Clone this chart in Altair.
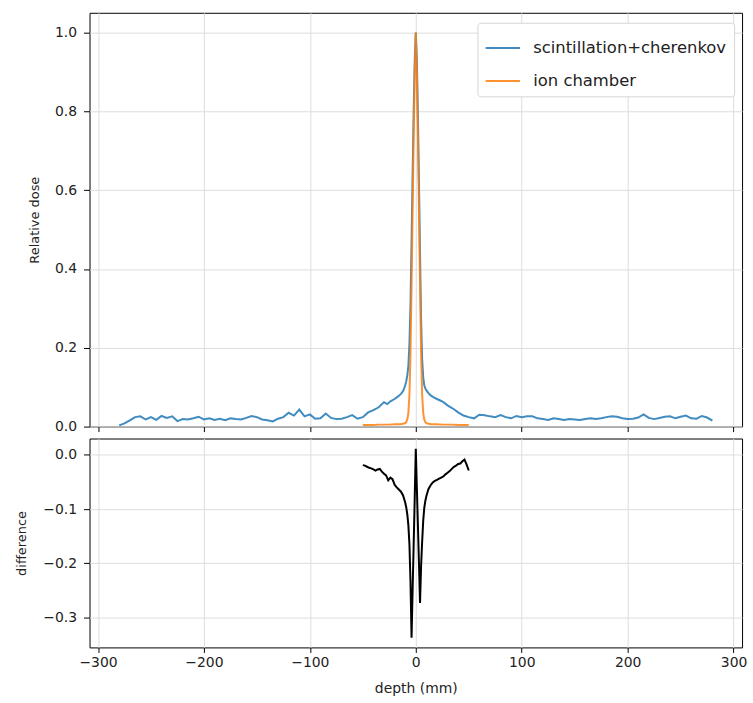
import altair as alt
import pandas as pd

# ---------------- data ----------------
scint_depth = [-280, -275, -270, -265, -260, -255, -250, -245, -240, -235,
               -230, -225, -220, -215, -210, -205, -200, -195, -190, -185,
               -180, -175, -170, -165, -160, -155, -150, -145, -140, -135,
               -130, -125, -120, -115, -110, -105, -100, -95, -90, -85,
               -80, -75, -70, -65, -60, -55, -50,
               -45, -40, -35, -30, -27, -24, -20, -17, -14, -12, -11, -10, -9, -8,
               -7, -6, -5, -4, -3, -2, -1, 0, 1, 2, 3, 4, 5, 6, 7, 8, 9, 10,
               12, 14, 17, 20, 24, 27, 30, 33, 36, 40, 45, 50,
               55, 60, 65, 70, 75, 80, 85, 90, 95, 100,
               105, 110, 115, 120, 125, 130, 135, 140, 145, 150,
               155, 160, 165, 170, 175, 180, 185, 190, 195, 200,
               205, 210, 215, 220, 225, 230, 235, 240, 245, 250,
               255, 260, 265, 270, 275, 280]
scint_dose = [0.003, 0.008, 0.016, 0.024, 0.026, 0.018, 0.024, 0.017, 0.027, 0.022,
              0.026, 0.014, 0.019, 0.018, 0.021, 0.025, 0.018, 0.021, 0.017, 0.020,
              0.016, 0.021, 0.019, 0.018, 0.022, 0.027, 0.024, 0.018, 0.016, 0.013,
              0.020, 0.024, 0.035, 0.028, 0.043, 0.026, 0.031, 0.020, 0.021, 0.033,
              0.022, 0.019, 0.020, 0.024, 0.029, 0.020, 0.024,
              0.036, 0.042, 0.049, 0.062, 0.057, 0.064, 0.070, 0.076, 0.083, 0.090,
              0.097, 0.105, 0.115, 0.130, 0.155, 0.210, 0.310, 0.470, 0.640, 0.800,
              0.930, 1.000, 0.930, 0.790, 0.620, 0.440, 0.270, 0.170, 0.125, 0.105,
              0.097, 0.092, 0.085, 0.079, 0.074, 0.070, 0.065, 0.060, 0.054, 0.049,
              0.044, 0.036, 0.028, 0.024,
              0.021, 0.030, 0.029, 0.026, 0.024, 0.029, 0.024, 0.021, 0.027, 0.024,
              0.026, 0.026, 0.021, 0.019, 0.017, 0.021, 0.019, 0.017, 0.019, 0.018,
              0.017, 0.019, 0.021, 0.019, 0.021, 0.024, 0.026, 0.025, 0.021, 0.019,
              0.020, 0.023, 0.031, 0.022, 0.019, 0.022, 0.025, 0.026, 0.021, 0.025,
              0.028, 0.021, 0.020, 0.027, 0.023, 0.015]

ion_depth = [-50, -45, -40, -35, -30, -25, -20, -15, -12, -10, -9, -8, -7, -6, -5,
             -4, -3, -2, -1, 0, 1, 2, 3, 4, 5, 6, 7, 8, 9, 10, 12, 15, 20, 25,
             30, 35, 40, 45, 50]
ion_dose = [0.004, 0.004, 0.004, 0.005, 0.005, 0.005, 0.006, 0.006, 0.007, 0.009,
            0.012, 0.018, 0.035, 0.080, 0.190, 0.360, 0.550, 0.740, 0.900, 1.000,
            0.900, 0.740, 0.550, 0.360, 0.190, 0.080, 0.035, 0.018, 0.012, 0.009,
            0.007, 0.006, 0.006, 0.005, 0.005, 0.005, 0.004, 0.004, 0.004]

diff_depth = [-50, -48, -46, -44, -42, -40, -38, -36, -34, -32, -30, -28, -26, -24,
              -22, -20, -18, -16, -14, -12, -10, -9, -8, -7, -6, -5, -4, -3, -2, -1,
              0, 1, 2, 3, 4, 5, 6, 7, 8, 9, 10, 12, 14, 16, 18, 20, 22, 24, 26, 28,
              30, 32, 34, 36, 38, 40, 42, 44, 46, 48, 50]
diff_value = [-0.019, -0.020, -0.022, -0.024, -0.025, -0.027, -0.029, -0.027, -0.026,
              -0.031, -0.035, -0.038, -0.047, -0.042, -0.045, -0.055, -0.060, -0.064,
              -0.068, -0.075, -0.088, -0.097, -0.110, -0.130, -0.165, -0.235, -0.337,
              -0.250, -0.165, -0.078, 0.011, -0.060, -0.130, -0.200, -0.273, -0.205,
              -0.160, -0.122, -0.098, -0.085, -0.076, -0.063, -0.056, -0.051, -0.048,
              -0.046, -0.044, -0.042, -0.040, -0.036, -0.033, -0.030, -0.026, -0.022,
              -0.020, -0.017, -0.016, -0.012, -0.009, -0.018, -0.029]

x_ticks = [-300, -200, -100, 0, 100, 200, 300]
top_y_ticks = [0.0, 0.2, 0.4, 0.6, 0.8, 1.0]
bottom_y_ticks = [0.0, -0.1, -0.2, -0.3]
series_names = ["scintillation+cherenkov", "ion chamber"]
series_colors = ["#1f77b4", "#ff7f0e"]

# ---------------- chart ----------------
FONT = "DejaVu Sans"
scint_df = pd.DataFrame({"depth": scint_depth, "value": scint_dose,
                         "series": series_names[0]})
ion_df = pd.DataFrame({"depth": ion_depth, "value": ion_dose,
                       "series": series_names[1]})
diff_df = pd.DataFrame({"depth": diff_depth, "value": diff_value})

x_scale = alt.Scale(domain=[-308, 308], nice=False, zero=False)
color_scale = alt.Scale(domain=series_names, range=series_colors)

x_top = alt.X("depth:Q", scale=x_scale,
              axis=alt.Axis(values=x_ticks, labels=False, title=None))
y_top = alt.Y("value:Q", scale=alt.Scale(domain=[0, 1.05], nice=False, zero=False),
              axis=alt.Axis(values=top_y_ticks, format=".1f", title="Relative dose",
                            titleX=-48, titleFontSize=13))

legend = alt.Legend(title=None, orient="none", legendX=390, legendY=10,
                    symbolType="stroke", symbolStrokeWidth=2, symbolSize=1200,
                    symbolOpacity=0.85, labelFontSize=16.5, labelFont=FONT,
                    labelLimit=400,
                    labelColor="#222222", labelOffset=12, padding=7, rowPadding=6,
                    strokeColor="#d5d5d5", fillColor="white", cornerRadius=3)

color_enc = alt.Color("series:N", scale=color_scale, legend=legend)

scint = alt.Chart(scint_df).mark_line(strokeWidth=2, opacity=0.85).encode(
    x=x_top, y=y_top, color=color_enc,
)
ion = alt.Chart(ion_df).mark_line(strokeWidth=2, opacity=0.85).encode(
    x=x_top, y=y_top, color=color_enc,
)
top = alt.layer(scint, ion).properties(width=656, height=416)

bottom = alt.Chart(diff_df).mark_line(strokeWidth=2, color="black").encode(
    x=alt.X("depth:Q", scale=x_scale,
            axis=alt.Axis(values=x_ticks, format="d", title="depth (mm)",
                          titlePadding=12, titleFontSize=14)),
    y=alt.Y("value:Q", scale=alt.Scale(domain=[-0.355, 0.03], nice=False, zero=False),
            axis=alt.Axis(values=bottom_y_ticks, format=".1f", title="difference",
                          titleX=-61, titleFontSize=13)),
).properties(width=656, height=210)

chart = alt.vconcat(top, bottom, spacing=3).properties(
    padding={"left": 15, "top": 10, "right": 5, "bottom": 2}
).configure_view(
    stroke="black", strokeWidth=1
).configure_axis(
    labelFont=FONT, labelFontSize=14, labelColor="#222222",
    titleFont=FONT, titleFontSize=13, titleFontWeight="normal", titleColor="#222222",
    gridColor="#dddddd", gridWidth=1, domain=False, tickColor="black",
).configure_axisY(
    tickSize=6, labelPadding=7, titleFontSize=13, titleFont=FONT,
).configure_axisX(
    tickSize=5, labelPadding=3, titleFontSize=14, titleFont=FONT,
)

chart.save("out.html", embed_options={"renderer": "svg", "actions": False})
